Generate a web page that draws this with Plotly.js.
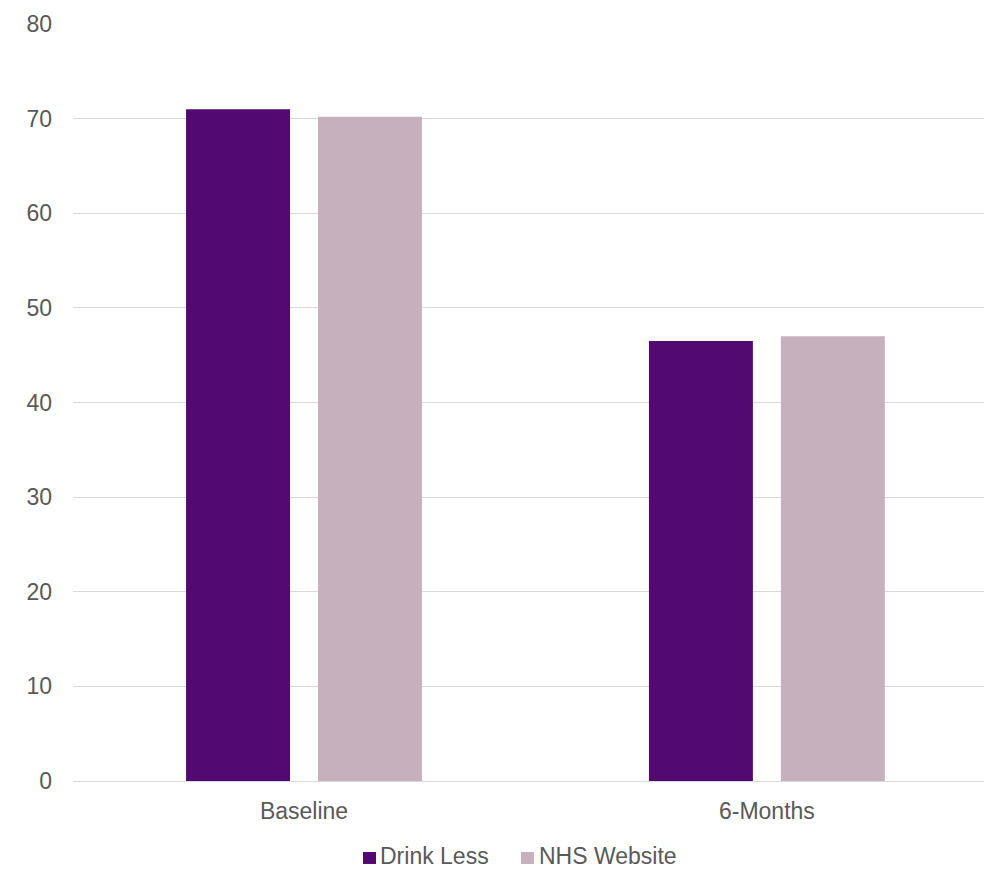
<!DOCTYPE html>
<html>
<head>
<meta charset="utf-8">
<script src="https://cdn.plot.ly/plotly-3.0.1.min.js"></script>
<style>
  html, body { margin: 0; padding: 0; background: #ffffff; }
  #chart { width: 984px; height: 869px; }
</style>
</head>
<body>
<div id="chart"></div>
<script>
// Time points on the x axis
const timepoints = ['Baseline', '6-Months'];

// Values per group
const drinkLess = [71.0, 46.5];
const nhsWebsite = [70.2, 47.0];

// Series names and colours
const seriesNames = ['Drink Less', 'NHS Website'];
const seriesColors = ['#520a72', '#c6b0bc'];

// Y axis ticks
const yTicks = [0, 10, 20, 30, 40, 50, 60, 70, 80];

const textColor = '#595959';
const gridColor = '#d9d9d9';
const fontFamily = '"Liberation Sans", Arial, sans-serif';
const fontSize = 23;

const traces = [drinkLess, nhsWebsite].map((vals, i) => ({
  type: 'bar',
  name: seriesNames[i],
  x: timepoints,
  y: vals,
  marker: { color: seriesColors[i], line: { width: 0 } },
  showlegend: false
}));

// Legend row under the axis: a small swatch followed by the series name
const legendSwatchX = [[0.3183, 0.3326], [0.4918, 0.5060]];
const legendTextX = [0.3359, 0.5104];
const legendShapes = seriesNames.map((name, i) => ({
  type: 'rect',
  xref: 'paper', yref: 'paper',
  x0: legendSwatchX[i][0], x1: legendSwatchX[i][1],
  y0: -0.1096, y1: -0.0938,
  fillcolor: seriesColors[i],
  line: { width: 0 }
}));
const legendLabels = seriesNames.map((name, i) => ({
  xref: 'paper', yref: 'paper',
  x: legendTextX[i], y: -0.0991,
  xanchor: 'left', yanchor: 'middle',
  text: name,
  showarrow: false,
  borderpad: 0,
  font: { family: fontFamily, size: fontSize, color: textColor }
}));

const layout = {
  width: 984,
  height: 869,
  margin: { l: 73, r: 0, t: 24, b: 88, pad: 0 },
  paper_bgcolor: '#ffffff',
  plot_bgcolor: '#ffffff',
  font: { family: fontFamily, size: fontSize, color: textColor },
  barmode: 'group',
  bargap: 0.43,
  bargroupgap: 0.212,
  showlegend: false,
  shapes: legendShapes,
  annotations: legendLabels,
  xaxis: {
    type: 'category',
    range: [-0.499, 1.469],
    showgrid: false,
    showline: true,
    linecolor: gridColor,
    linewidth: 1,
    ticks: '',
    ticklabelstandoff: 9,
    tickfont: { family: fontFamily, size: fontSize, color: textColor },
    fixedrange: true
  },
  yaxis: {
    range: [0, 80],
    tickvals: yTicks,
    ticktext: yTicks.map(String),
    showgrid: true,
    gridcolor: gridColor,
    gridwidth: 1,
    zeroline: false,
    showline: false,
    ticks: '',
    ticklabelstandoff: 20,
    tickfont: { family: fontFamily, size: fontSize, color: textColor },
    fixedrange: true
  }
};

Plotly.newPlot('chart', traces, layout, { displayModeBar: false, staticPlot: true });
</script>
</body>
</html>
